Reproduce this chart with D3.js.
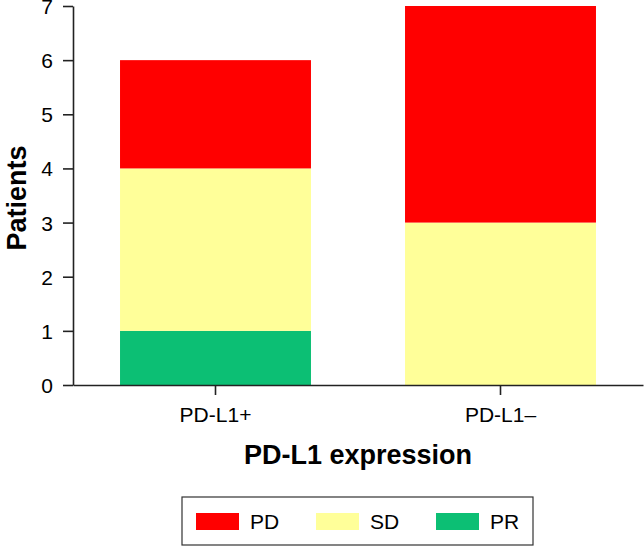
<!DOCTYPE html>
<html>
<head>
<meta charset="utf-8">
<script src="https://cdn.jsdelivr.net/npm/d3@7"></script>
<style>
  body { margin: 0; background: white; }
  text { font-family: Arial, "Liberation Sans", sans-serif; fill: #000; }
</style>
</head>
<body>
<div id="chart"></div>
<script>
// data
const groups = ['PD-L1+', 'PD-L1\u2013'];
const responses = ['PR', 'SD', 'PD'];
const prValues = [1, 0];
const sdValues = [3, 3];
const pdValues = [2, 4];
const legendOrder = ['PD', 'SD', 'PR'];
const yTicks = [0, 1, 2, 3, 4, 5, 6, 7];

const width = 644;
const height = 547;
const margin = {top: 6, right: 1, bottom: 162, left: 73};
const innerW = width - margin.left - margin.right;
const innerH = height - margin.top - margin.bottom;

const color = d3.scaleOrdinal()
    .domain(responses)
    .range(['#0cbf74', '#ffff99', '#ff0000']);

const table = groups.map((g, i) => ({group: g, PR: prValues[i], SD: sdValues[i], PD: pdValues[i]}));
const stacked = d3.stack().keys(responses)(table);

const xScale = d3.scaleBand()
    .domain(groups)
    .range([0, innerW])
    .paddingInner(0.33)
    .paddingOuter(0.165);

const yScale = d3.scaleLinear()
    .domain([0, 7])
    .range([innerH, 0]);

const svg = d3.select('#chart')
    .append('svg')
    .attr('width', width)
    .attr('height', height)
    .style('background', 'white');

const chrt = svg.append('g')
    .attr('transform', 'translate(' + margin.left + ',' + margin.top + ')');

// bars
chrt.selectAll('.layer')
    .data(stacked)
    .enter()
    .append('g')
    .attr('fill', (d) => color(d.key))
    .selectAll('rect')
    .data((d) => d)
    .enter()
    .append('rect')
    .attr('x', (d) => xScale(d.data.group))
    .attr('y', (d) => yScale(d[1]))
    .attr('width', xScale.bandwidth())
    .attr('height', (d) => yScale(d[0]) - yScale(d[1]));

// y axis
const yAxis = chrt.append('g')
    .call(d3.axisLeft(yScale)
        .tickValues(yTicks)
        .tickFormat(d3.format('d'))
        .tickSize(10)
        .tickPadding(10)
        .tickSizeOuter(0));
yAxis.selectAll('text').style('font-size', '21px').attr('dy', '0.36em');
yAxis.selectAll('line, path').attr('stroke', '#222').attr('stroke-width', 1.6);

// x axis
const xAxis = chrt.append('g')
    .attr('transform', 'translate(0,' + innerH + ')')
    .call(d3.axisBottom(xScale).tickSize(10).tickPadding(12).tickSizeOuter(0));
xAxis.selectAll('text').style('font-size', '21px');
xAxis.selectAll('line, path').attr('stroke', '#222').attr('stroke-width', 1.6);

// axis titles
chrt.append('text')
    .attr('x', (xScale(groups[0]) + xScale(groups[1]) + xScale.bandwidth()) / 2)
    .attr('y', innerH + 79)
    .attr('text-anchor', 'middle')
    .style('font-size', '27px')
    .style('font-weight', 'bold')
    .text('PD-L1 expression');

svg.append('text')
    .attr('transform', 'translate(26,198) rotate(-90)')
    .attr('text-anchor', 'middle')
    .style('font-size', '27px')
    .style('font-weight', 'bold')
    .text('Patients');

// legend
const legend = svg.append('g')
    .attr('transform', 'translate(182,497)');
legend.append('rect')
    .attr('width', 351)
    .attr('height', 48)
    .attr('fill', 'none')
    .attr('stroke', '#333')
    .attr('stroke-width', 1.2);

const items = legend.selectAll('.item')
    .data(legendOrder)
    .enter()
    .append('g')
    .attr('transform', (d, i) => 'translate(' + (14 + i * 120) + ',16)');
items.append('rect')
    .attr('width', 43)
    .attr('height', 17)
    .attr('fill', (d) => color(d));
items.append('text')
    .attr('x', 54)
    .attr('y', 16)
    .style('font-size', '21px')
    .text((d) => d);
</script>
</body>
</html>
